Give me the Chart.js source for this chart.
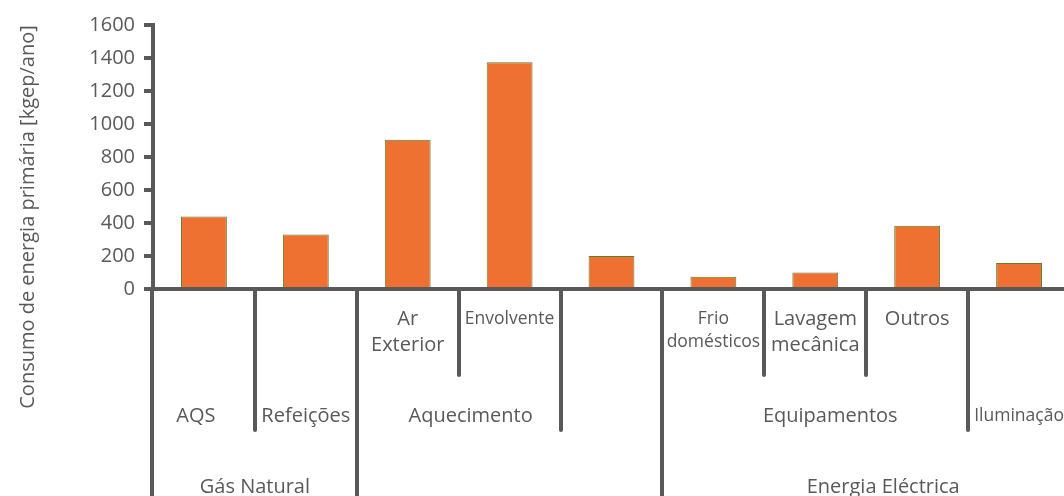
<!DOCTYPE html>
<html>
<head>
<meta charset="utf-8">
<script src="https://cdn.jsdelivr.net/npm/chart.js@4.4.0/dist/chart.umd.min.js"></script>
<style>
  html, body { margin: 0; padding: 0; background: #fff; overflow: hidden; }
  #wrap { width: 1072px; height: 496px; }
</style>
</head>
<body>
<div id="wrap"><canvas id="energyChart" width="1072" height="496"></canvas></div>
<script>
// primary energy per end use [kgep/ano]
const consumo = [440, 330, 905, 1375, 200, 75, 100, 383, 157];

// three levels of category labels, one entry per bar
const detalhe = [[], [], ['Ar', 'Exterior'], ['Envolvente'], [], ['Frio', 'domésticos'], ['Lavagem', 'mecânica'], ['Outros'], []];
const usos = ['AQS', 'Refeições', 'Aquecimento', 'Aquecimento', '', 'Equipamentos', 'Equipamentos', 'Equipamentos', 'Iluminação'];
const fontes = ['Gás Natural', 'Gás Natural', '', '', '', 'Energia Eléctrica', 'Energia Eléctrica', 'Energia Eléctrica', 'Energia Eléctrica'];

const yMax = 1600;
const yStep = 200;
const yTitle = 'Consumo de energia primária [kgep/ano]';

const GREY = '#595959';
const FONT = '"Open Sans", sans-serif';
const smallText = new Set(['Envolvente', 'Frio', 'domésticos', 'Iluminação']);

// vertical layout of the label rows under the axis
const ROW1 = 319, ROW2 = 416, ROW3 = 487;
const CUT1 = 375, CUT2 = 430, CUT3 = 500;
const nudge = { 'AQS': -8, 'Aquecimento': 12, 'Equipamentos': 15, 'Energia Eléctrica': 17 };

// collapse consecutive equal labels into spans
const runs = (arr) => {
    const out = [];
    arr.forEach((v, i) => {
        const last = out[out.length - 1];
        if (last && last.label === v) last.end = i;
        else out.push({ label: v, start: i, end: i });
    });
    return out.filter(r => r.label);
};

const setFont = (ctx, text) => {
    ctx.font = (smallText.has(text) ? '17.5px ' : '20px ') + FONT;
};

const categoryAxisPlugin = {
    id: 'categoryAxis',
    afterDraw(chart) {
        const { ctx, chartArea, scales: { x } } = chart;
        const px = i => x.getPixelForValue(i);
        const half = (px(1) - px(0)) / 2;
        const top = Math.round(chartArea.bottom);

        ctx.save();
        ctx.strokeStyle = GREY;
        ctx.lineWidth = 4;
        ctx.lineCap = 'round';

        const divider = (bx, depth) => {
            const sx = Math.round(bx);
            ctx.beginPath();
            ctx.moveTo(sx, top);
            ctx.lineTo(sx, depth);
            ctx.stroke();
        };

        // y axis carries on down as the outer divider
        divider(chartArea.left - 1, CUT3);

        for (let i = 1; i < consumo.length; i++) {
            let depth = CUT1;
            if (fontes[i] !== fontes[i - 1]) depth = CUT3;
            else if (usos[i] !== usos[i - 1]) depth = CUT2;
            divider(px(i) - half, depth);
        }

        ctx.fillStyle = GREY;
        ctx.textAlign = 'center';
        ctx.textBaseline = 'middle';

        // first row: detail labels
        detalhe.forEach((lines, i) => {
            lines.forEach((t, k) => {
                setFont(ctx, t);
                const lh = smallText.has(t) ? 23 : 26;
                ctx.fillText(t, px(i), ROW1 + k * lh);
            });
        });

        // second and third rows: grouped labels
        [[usos, ROW2], [fontes, ROW3]].forEach(([arr, y]) => {
            runs(arr).forEach(r => {
                setFont(ctx, r.label);
                const cx = (px(r.start) + px(r.end)) / 2 + (nudge[r.label] || 0);
                ctx.fillText(r.label, cx, y);
            });
        });

        // axis title
        ctx.translate(28, 217);
        ctx.rotate(-Math.PI / 2);
        ctx.font = '20px ' + FONT;
        ctx.fillText(yTitle, 0, 0);
        ctx.restore();
    }
};

const ctx = document.getElementById('energyChart').getContext('2d');
new Chart(ctx, {
    type: 'bar',
    data: {
        labels: usos.map((u, i) => detalhe[i].join(' ') || u),
        datasets: [{
            data: consumo,
            backgroundColor: '#EF7132',
            borderColor: '#5B7F2F',
            borderWidth: 1,
            barPercentage: 0.45,
            categoryPercentage: 1
        }]
    },
    options: {
        responsive: false,
        animation: false,
        layout: { padding: { top: 25, right: 2, left: 0, bottom: 0 } },
        plugins: {
            legend: { display: false },
            tooltip: { enabled: false }
        },
        scales: {
            x: {
                grid: { display: false },
                ticks: { display: false },
                border: { display: true, color: GREY, width: 4 },
                afterFit: s => { s.height = 207; }
            },
            y: {
                min: 0,
                max: yMax,
                ticks: {
                    stepSize: yStep,
                    color: GREY,
                    padding: 9,
                    font: { family: FONT, size: 20 },
                    callback: v => String(v)
                },
                grid: {
                    drawOnChartArea: false,
                    drawTicks: true,
                    tickLength: 9,
                    color: GREY,
                    lineWidth: 4
                },
                border: { display: true, color: GREY, width: 4 },
                afterFit: s => { s.width = 153; }
            }
        }
    },
    plugins: [categoryAxisPlugin]
});
</script>
</body>
</html>
